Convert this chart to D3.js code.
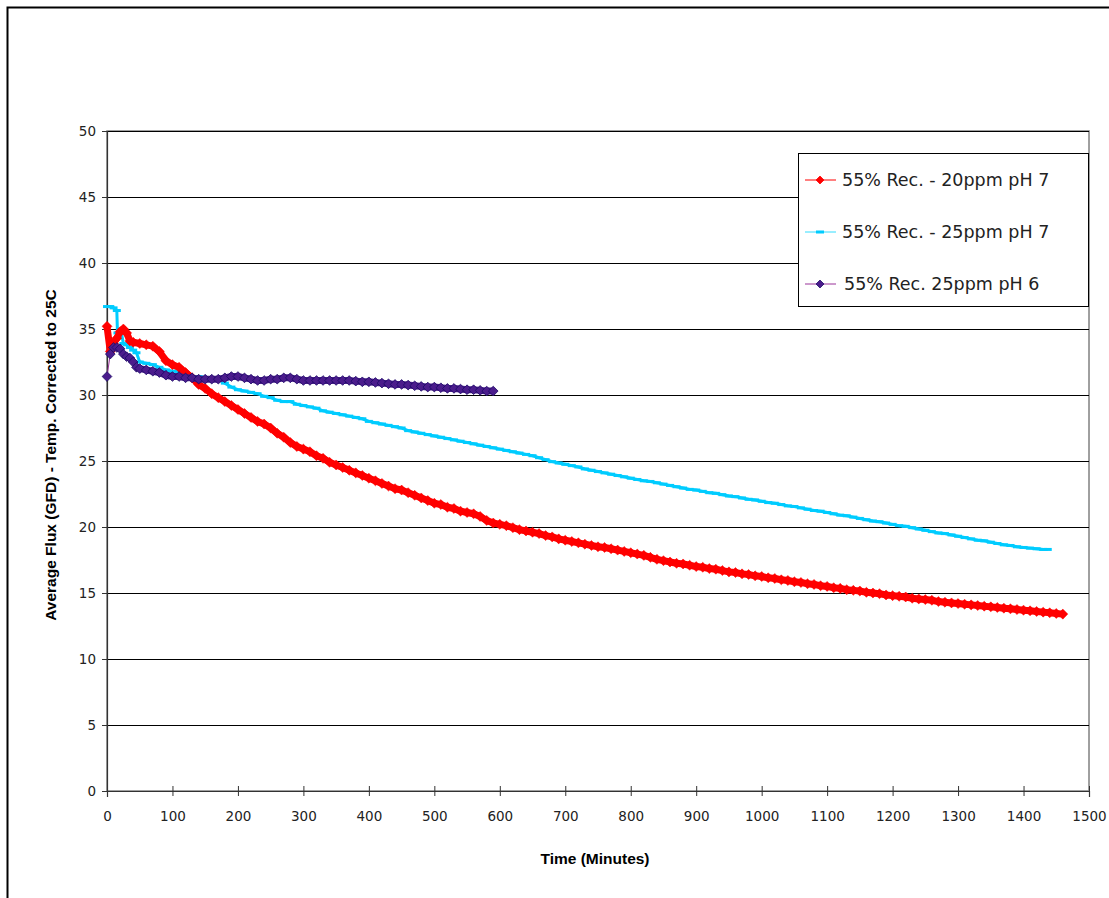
<!DOCTYPE html>
<html><head><meta charset="utf-8">
<script src="https://cdn.jsdelivr.net/npm/d3@7"></script>
<style>body{margin:0;background:#fff}svg{display:block}</style>
</head><body>
<svg id="c" width="1109" height="898"></svg>
<script>
const seriesNames = ["55% Rec. - 20ppm pH 7", "55% Rec. - 25ppm pH 7", "55% Rec. 25ppm pH 6"];
const xTicks = [0,100,200,300,400,500,600,700,800,900,1000,1100,1200,1300,1400,1500];
const yTicks = [0,5,10,15,20,25,30,35,40,45,50];

const red = [[0,35.2],[5,33.3],[10,33.9],[15,34.3],[20,34.8],[25,35.0],[30,34.7],[35,34.1],[40,34.0],[50,33.9],[60,33.8],[70,33.7],[80,33.3],[90,32.6],[100,32.3],[110,32.1],[120,31.7],[130,31.3],[140,30.8],[150,30.5],[160,30.1],[170,29.8],[180,29.5],[190,29.2],[200,28.9],[210,28.6],[220,28.3],[230,28.0],[240,27.8],[250,27.5],[260,27.1],[270,26.8],[280,26.4],[290,26.1],[300,25.9],[310,25.7],[320,25.4],[330,25.2],[340,24.9],[350,24.7],[360,24.5],[370,24.3],[380,24.1],[390,23.9],[400,23.7],[410,23.5],[420,23.3],[430,23.1],[440,22.9],[450,22.8],[460,22.6],[470,22.4],[480,22.2],[490,22.0],[500,21.8],[510,21.7],[520,21.5],[530,21.4],[540,21.2],[550,21.1],[560,21.0],[570,20.8],[580,20.5],[590,20.3],[600,20.2],[610,20.1],[620,19.95],[630,19.8],[640,19.7],[650,19.6],[660,19.5],[670,19.35],[680,19.25],[690,19.1],[700,19.0],[710,18.9],[720,18.8],[730,18.7],[740,18.6],[750,18.5],[760,18.45],[770,18.35],[780,18.25],[790,18.15],[800,18.05],[810,17.95],[820,17.85],[830,17.7],[840,17.55],[850,17.45],[860,17.35],[870,17.25],[880,17.2],[890,17.1],[900,17.0],[910,16.95],[920,16.85],[930,16.8],[940,16.7],[950,16.6],[960,16.55],[970,16.45],[980,16.4],[990,16.3],[1000,16.25],[1010,16.15],[1020,16.1],[1030,16.0],[1040,15.95],[1050,15.85],[1060,15.8],[1070,15.7],[1080,15.65],[1090,15.55],[1100,15.5],[1110,15.4],[1120,15.35],[1130,15.25],[1140,15.2],[1150,15.15],[1160,15.05],[1170,15.0],[1180,14.95],[1190,14.85],[1200,14.8],[1210,14.75],[1220,14.7],[1230,14.6],[1240,14.55],[1250,14.5],[1260,14.45],[1270,14.35],[1280,14.3],[1290,14.25],[1300,14.2],[1310,14.15],[1320,14.1],[1330,14.05],[1340,14.0],[1350,13.95],[1360,13.9],[1370,13.85],[1380,13.8],[1390,13.75],[1400,13.7],[1410,13.65],[1420,13.6],[1430,13.55],[1440,13.5],[1450,13.45],[1460,13.4]];

const cyan = [[0,36.7],[5,36.7],[10,36.6],[15,36.4],[16,34.7],[22,34.7],[25,33.9],[30,33.8],[35,33.6],[40,33.4],[45,33.2],[50,32.5],[60,32.4],[70,32.3],[80,32.1],[90,31.9],[100,31.8],[110,31.8],[120,31.6],[130,31.4],[140,31.4],[150,31.3],[160,31.3],[170,31.2],[180,30.9],[190,30.6],[200,30.4],[210,30.3],[220,30.2],[230,30.1],[240,29.9],[250,29.8],[260,29.6],[270,29.5],[280,29.5],[290,29.3],[300,29.2],[310,29.1],[320,29.0],[330,28.8],[340,28.7],[350,28.6],[360,28.5],[370,28.4],[380,28.3],[390,28.2],[400,28.0],[410,27.9],[420,27.8],[430,27.7],[440,27.6],[450,27.5],[460,27.3],[470,27.2],[480,27.1],[490,27.0],[500,26.9],[510,26.8],[520,26.7],[530,26.6],[540,26.5],[550,26.4],[560,26.3],[570,26.2],[580,26.1],[590,26.0],[600,25.9],[610,25.8],[620,25.7],[630,25.6],[640,25.5],[650,25.4],[660,25.25],[670,25.1],[680,24.95],[690,24.85],[700,24.75],[710,24.65],[720,24.55],[730,24.4],[740,24.3],[750,24.2],[760,24.1],[770,24.0],[780,23.9],[790,23.8],[800,23.7],[810,23.6],[820,23.5],[830,23.45],[840,23.35],[850,23.25],[860,23.15],[870,23.05],[880,22.95],[890,22.85],[900,22.8],[910,22.7],[920,22.6],[930,22.55],[940,22.45],[950,22.35],[960,22.3],[970,22.2],[980,22.1],[990,22.05],[1000,21.95],[1010,21.85],[1020,21.8],[1030,21.7],[1040,21.6],[1050,21.55],[1060,21.45],[1070,21.35],[1080,21.25],[1090,21.2],[1100,21.1],[1110,21.0],[1120,20.9],[1130,20.85],[1140,20.75],[1150,20.65],[1160,20.55],[1170,20.45],[1180,20.4],[1190,20.3],[1200,20.2],[1210,20.1],[1220,20.05],[1230,19.95],[1240,19.85],[1250,19.75],[1260,19.65],[1270,19.55],[1280,19.5],[1290,19.4],[1300,19.3],[1310,19.2],[1320,19.1],[1330,19.0],[1340,18.95],[1350,18.85],[1360,18.75],[1370,18.65],[1380,18.6],[1390,18.5],[1400,18.45],[1410,18.4],[1420,18.35],[1430,18.3],[1437,18.3]];

const purple = [[0,31.4],[5,33.1],[10,33.6],[15,33.6],[20,33.5],[25,33.1],[30,32.9],[35,32.8],[40,32.5],[45,32.1],[50,32.0],[60,31.9],[70,31.8],[80,31.7],[90,31.5],[100,31.4],[110,31.4],[120,31.3],[130,31.3],[140,31.2],[150,31.2],[160,31.2],[170,31.2],[180,31.3],[190,31.4],[200,31.4],[210,31.3],[220,31.2],[230,31.1],[240,31.1],[250,31.2],[260,31.2],[270,31.3],[280,31.3],[290,31.2],[300,31.1],[310,31.1],[320,31.1],[330,31.1],[340,31.1],[350,31.1],[360,31.1],[370,31.1],[380,31.05],[390,31.0],[400,31.0],[410,30.95],[420,30.9],[430,30.85],[440,30.8],[450,30.8],[460,30.75],[470,30.7],[480,30.65],[490,30.6],[500,30.6],[510,30.55],[520,30.5],[530,30.5],[540,30.45],[550,30.4],[560,30.4],[570,30.35],[580,30.3],[590,30.3]];

const svg = d3.select("#c");
const L = 107, R = 1089, T = 131, B = 791;
const x = d3.scaleLinear().domain([0,1500]).range([L,R]);
const y = d3.scaleLinear().domain([0,50]).range([B,T]);
const tickFont = "'DejaVu Sans', sans-serif";
const titleFont = "'Liberation Sans', Arial, sans-serif";

// outer frame
svg.append("rect").attr("x",7.5).attr("y",7.5).attr("width",1120).attr("height",900)
  .attr("fill","none").attr("stroke","#000").attr("stroke-width",2);

// plot area border
svg.append("rect").attr("x",L).attr("y",T).attr("width",R-L).attr("height",B-T)
  .attr("fill","none").attr("stroke","#808080").attr("stroke-width",1.5);

// gridlines
svg.append("g").selectAll("line").data(yTicks.filter(d=>d>0)).join("line")
  .attr("x1",L).attr("x2",R).attr("y1",d=>Math.round(y(d))+0.5).attr("y2",d=>Math.round(y(d))+0.5)
  .attr("stroke","#000").attr("stroke-width",1);

// axes
const fmt = d3.format("d");
const yAxis = svg.append("g").attr("transform",`translate(${L},0)`)
  .call(d3.axisLeft(y).tickValues(yTicks).tickFormat(fmt).tickSize(5).tickPadding(6));
const xAxis = svg.append("g").attr("transform",`translate(0,${B})`)
  .call(d3.axisBottom(x).tickValues(xTicks).tickFormat(fmt).tickSize(6).tickPadding(14));
[yAxis,xAxis].forEach(g=>{
  g.select(".domain").attr("stroke","#333").attr("stroke-width",1.2);
  g.selectAll(".tick line").attr("stroke","#333");
  g.selectAll("text").attr("font-family",tickFont).attr("font-size",13.5).attr("fill","#222");
});
xAxis.selectAll(".tick line").attr("y1",-5).attr("y2",5);
xAxis.selectAll(".tick text").attr("dy","0.71em").attr("y",20);

// axis titles
svg.append("text").attr("x",595).attr("y",864).attr("text-anchor","middle")
  .attr("font-family",titleFont).attr("font-weight","bold").attr("font-size",15.5)
  .text("Time (Minutes)");
svg.append("text").attr("transform","translate(56,455) rotate(-90)").attr("text-anchor","middle")
  .attr("font-family",titleFont).attr("font-weight","bold").attr("font-size",15.5)
  .text("Average Flux (GFD) - Temp. Corrected to 25C");

const line = d3.line().x(d=>x(d[0])).y(d=>y(d[1]));
const diamond = d3.symbol().type(d3.symbolDiamond2);

// cyan series
svg.append("path").datum(cyan).attr("d",line).attr("fill","none").attr("stroke","#00CCFF").attr("stroke-width",3);
svg.append("g").selectAll("rect").data(cyan).join("rect")
  .attr("x",d=>x(d[0])-4).attr("y",d=>y(d[1])-1.5).attr("width",8).attr("height",3).attr("fill","#00CCFF");

// red series
svg.append("path").datum(red).attr("d",line).attr("fill","none").attr("stroke","#FF0000").attr("stroke-width",7)
  .attr("stroke-linejoin","round");
svg.append("g").selectAll("path").data(red).join("path")
  .attr("d",diamond.size(64)).attr("transform",d=>`translate(${x(d[0])},${y(d[1])})`)
  .attr("fill","#FF0000").attr("stroke","#FF0000").attr("stroke-width",0.5);

// purple series
svg.append("path").datum(purple).attr("d",line).attr("fill","none").attr("stroke","#993399").attr("stroke-width",1);
svg.append("path").datum(purple.filter(d=>d[0]>=50)).attr("d",line).attr("fill","none").attr("stroke","#4B1C8C").attr("stroke-width",7)
  .attr("stroke-linejoin","round");
svg.append("g").selectAll("path").data(purple).join("path")
  .attr("d",diamond.size(60)).attr("transform",d=>`translate(${x(d[0])},${y(d[1])})`)
  .attr("fill","#4B1C8C").attr("stroke","#1A0A66").attr("stroke-width",0.8);

// legend
const lg = svg.append("g");
lg.append("rect").attr("x",798.5).attr("y",153.5).attr("width",290).attr("height",153)
  .attr("fill","#fff").attr("stroke","#000").attr("stroke-width",1);
const legendRows = [
  {name:seriesNames[0], color:"#FF0000", mark:"diamond", fill:"#FF0000", stroke:"#FF0000", tx:842},
  {name:seriesNames[1], color:"#33DDFF", mark:"dash", fill:"#00CCFF", stroke:"#00CCFF", tx:842},
  {name:seriesNames[2], color:"#993399", mark:"diamond", fill:"#4B1C8C", stroke:"#1A0A66", tx:844}
];
legendRows.forEach((r,i)=>{
  const yy = 180 + i*52;
  lg.append("line").attr("x1",805).attr("x2",836).attr("y1",yy).attr("y2",yy)
    .attr("stroke",r.color).attr("stroke-width",1);
  if (r.mark==="diamond") {
    lg.append("path").attr("d",diamond.size(40)).attr("transform",`translate(820,${yy})`)
      .attr("fill",r.fill).attr("stroke",r.stroke).attr("stroke-width",0.8);
  } else {
    lg.append("rect").attr("x",816).attr("y",yy-1.5).attr("width",8).attr("height",3).attr("fill",r.fill);
  }
  lg.append("text").attr("x",r.tx).attr("y",yy).attr("dy","0.35em")
    .attr("font-family",tickFont).attr("font-size",17.5).attr("fill","#222").text(r.name);
});
</script>
</body></html>
